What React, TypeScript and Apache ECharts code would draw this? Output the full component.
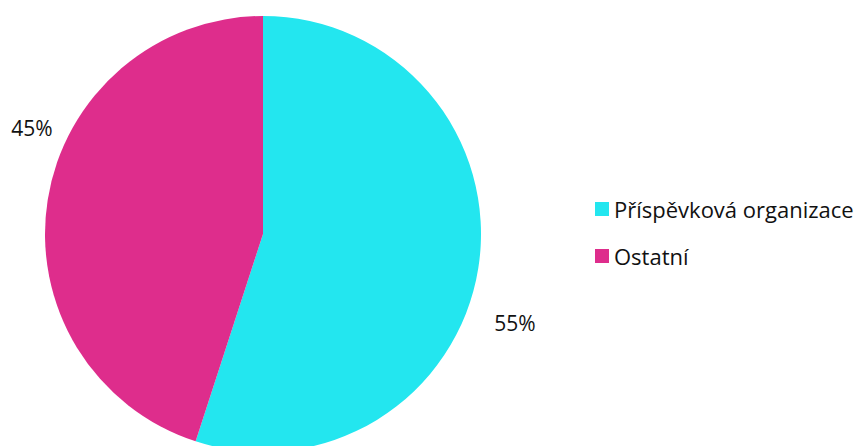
import React, { useEffect, useRef } from "react";
import * as echarts from "echarts";

const categories = ["Příspěvková organizace", "Ostatní"];
const values = [55, 45];
const colors = ["#23E6EF", "#DE2D8C"];

export default function App() {
  const ref = useRef<HTMLDivElement>(null);
  useEffect(() => {
    if (!ref.current) return;
    const chart = echarts.init(ref.current, undefined, { renderer: "svg" });
    const font = "'Open Sans', Lato, sans-serif";
    chart.setOption({
      animation: false,
      backgroundColor: "#ffffff",
      color: colors,
      legend: {
        orient: "vertical",
        left: 590,
        top: 191,
        itemWidth: 14,
        itemHeight: 14,
        itemGap: 21,
        icon: "rect",
        data: categories,
        textStyle: { fontFamily: font, fontSize: 22, color: "#111111", lineHeight: 26, padding: [0, 0, 0, 0] },
      },
      series: [
        {
          type: "pie",
          center: [263, 234],
          radius: 218,
          startAngle: 90,
          clockwise: true,
          avoidLabelOverlap: false,
          data: categories.map((c, i) => ({ name: c, value: values[i] })),
          label: {
            show: true,
            position: "outside",
            formatter: (p: any) => Math.round(p.percent) + "%",
            fontFamily: font,
            fontSize: 21,
            color: "#111111",
          },
          labelLine: { show: false },
          labelLayout: (p: any) => {
            const pos = p.dataIndex === 0 ? [515, 323] : [32, 128];
            return { x: pos[0], y: pos[1], align: "center", verticalAlign: "middle", hideOverlap: false, moveOverlap: null };
          },
          emphasis: { disabled: true },
        },
      ],
    });
    return () => chart.dispose();
  }, []);
  return <div ref={ref} style={{ position: "fixed", left: 0, top: 0, width: 864, height: 446 }} />;
}
